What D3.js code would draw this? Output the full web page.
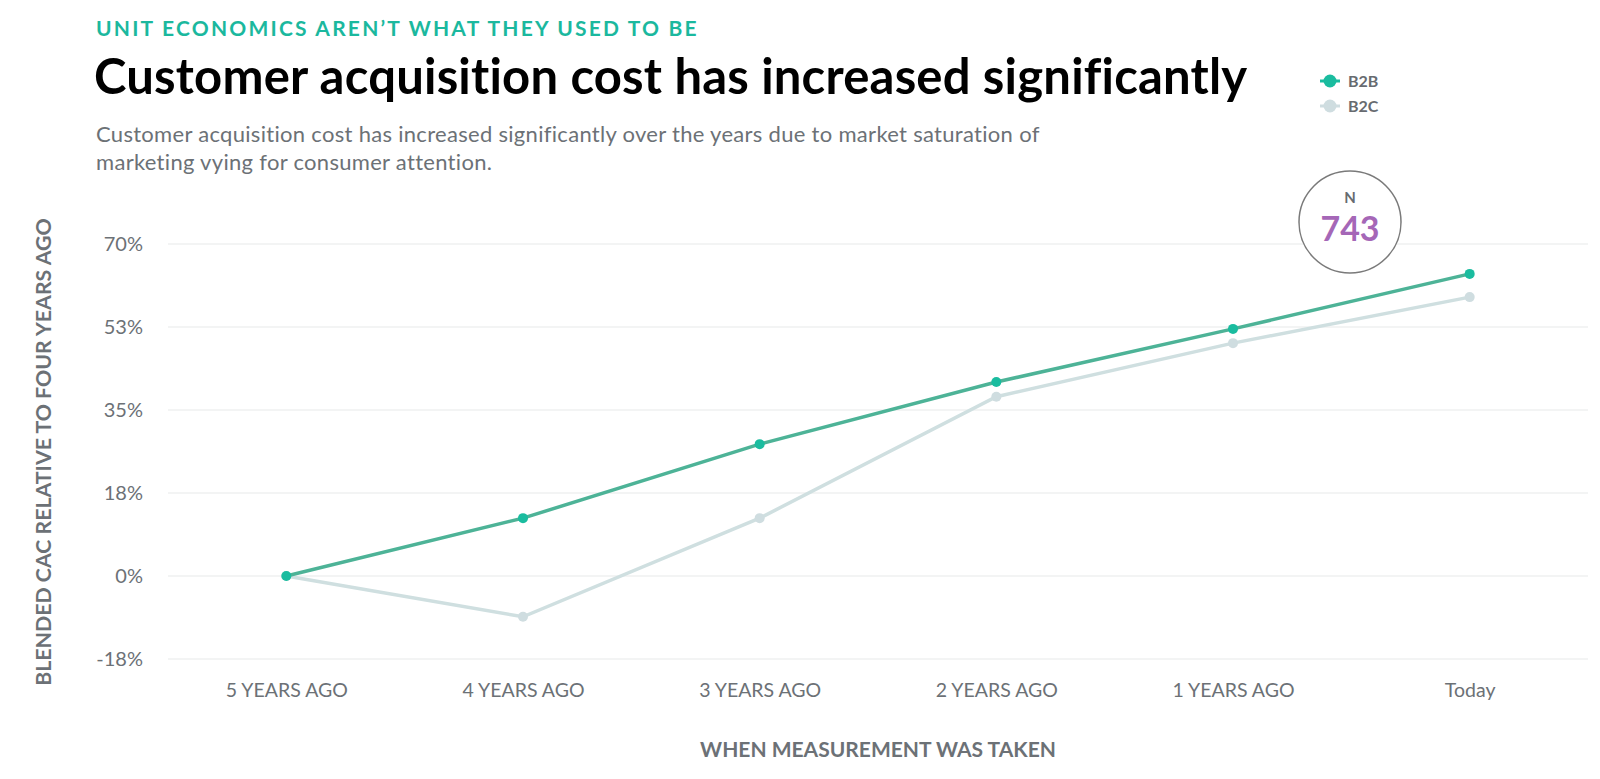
<!DOCTYPE html>
<html>
<head>
<meta charset="utf-8">
<script src="https://cdn.jsdelivr.net/npm/d3@7"></script>
<style>
  body { margin: 0; background: #fff; }
  svg { font-family: Lato, "Open Sans", sans-serif; }
</style>
</head>
<body>
<div id="graf"></div>
<script>
// data
let categories = ["5 YEARS AGO", "4 YEARS AGO", "3 YEARS AGO", "2 YEARS AGO", "1 YEARS AGO", "Today"];
let b2b = [0, 12.2, 27.8, 40.9, 52.1, 63.7];
let b2c = [0, -8.6, 12.2, 37.8, 49.1, 58.8];
let yTicks = [-17.5, 0, 17.5, 35, 52.5, 70];
let yTickLabels = ["-18%", "0%", "18%", "35%", "53%", "70%"];
let seriesNames = ["B2B", "B2C"];
let sampleSize = 743;

let width = 1600, height = 779;
let grey = "#6c7176";
let colors = { B2B: { line: "#4db397", dot: "#1abc9f" }, B2C: { line: "#cfdfe0", dot: "#cfdde0" } };

let svg = d3.select("#graf").append("svg")
            .attr("width", width)
            .attr("height", height)
            .attr("viewBox", [0, 0, width, height]);

// header
svg.append("text")
    .attr("x", 96).attr("y", 36)
    .attr("fill", "#1bb89e")
    .attr("font-size", 21).attr("font-weight", 700)
    .attr("letter-spacing", 2.2)
    .text("UNIT ECONOMICS AREN’T WHAT THEY USED TO BE");

svg.append("text")
    .attr("x", 94).attr("y", 94)
    .attr("fill", "#000")
    .attr("font-size", 49).attr("font-weight", 700)
    .attr("letter-spacing", 0.2)
    .text("Customer acquisition cost has increased significantly");

const desc = svg.append("text")
    .attr("fill", grey)
    .attr("font-size", 22)
    .attr("letter-spacing", 0.3);
desc.append("tspan").attr("x", 96).attr("y", 142)
    .text("Customer acquisition cost has increased significantly over the years due to market saturation of");
desc.append("tspan").attr("x", 96).attr("y", 170)
    .text("marketing vying for consumer attention.");

// legend
const legend = svg.append("g")
    .selectAll("g")
    .data(seriesNames)
    .join("g")
    .attr("transform", (d, i) => `translate(1330,${81 + i * 25})`);
legend.append("line")
    .attr("x1", -10).attr("x2", 10)
    .attr("stroke", d => colors[d].dot)
    .attr("stroke-width", 3);
legend.append("circle")
    .attr("r", 6.5)
    .attr("fill", d => colors[d].dot);
legend.append("text")
    .attr("x", 18).attr("dy", "0.36em")
    .attr("fill", "#676b70")
    .attr("font-size", 16).attr("font-weight", 700)
    .text(d => d);

// scales
let x = d3.scalePoint().domain(categories).range([168, 1588]).padding(0.5);
let y = d3.scaleLinear().domain([-17.5, 70]).range([659, 244]);

// grid
svg.append("g")
    .selectAll("line")
    .data(yTicks)
    .join("line")
    .attr("x1", 168).attr("x2", 1588)
    .attr("y1", d => y(d)).attr("y2", d => y(d))
    .attr("stroke", "#e8e9ea")
    .attr("stroke-width", 1.2);

// axes
const yAxis = svg.append("g")
    .attr("transform", "translate(168,0)")
    .call(d3.axisLeft(y).tickValues(yTicks).tickSize(0).tickPadding(25)
            .tickFormat((d, i) => yTickLabels[i]));
yAxis.select(".domain").remove();
yAxis.selectAll("text")
    .attr("fill", grey)
    .attr("font-size", 20)
    .attr("font-family", "Lato");

const xAxis = svg.append("g")
    .attr("transform", "translate(0,659)")
    .call(d3.axisBottom(x).tickSize(0).tickPadding(24));
xAxis.select(".domain").remove();
xAxis.selectAll("text")
    .attr("fill", grey)
    .attr("font-size", 19.5)
    .attr("font-family", "Lato");

svg.append("text")
    .attr("x", 878).attr("y", 757)
    .attr("text-anchor", "middle")
    .attr("fill", grey)
    .attr("font-size", 21).attr("font-weight", 700)
    .text("WHEN MEASUREMENT WAS TAKEN");

svg.append("text")
    .attr("transform", "translate(51,452) rotate(-90)")
    .attr("text-anchor", "middle")
    .attr("fill", grey)
    .attr("font-size", 21.3).attr("font-weight", 700)
    .text("BLENDED CAC RELATIVE TO FOUR YEARS AGO");

// lines
let line = d3.line()
            .x((d, i) => x(categories[i]))
            .y(d => y(d));

const series = [{ name: "B2C", values: b2c }, { name: "B2B", values: b2b }];

const sg = svg.append("g")
    .selectAll("g")
    .data(series)
    .join("g");

sg.append("path")
    .attr("fill", "none")
    .attr("stroke", d => colors[d.name].line)
    .attr("stroke-width", 3.5)
    .attr("d", d => line(d.values));

sg.selectAll("circle")
    .data(d => d.values.map(v => ({ name: d.name, v })))
    .join("circle")
    .attr("cx", (d, i) => x(categories[i]))
    .attr("cy", d => y(d.v))
    .attr("r", 5)
    .attr("fill", d => colors[d.name].dot);

// sample size badge
const badge = svg.append("g").attr("transform", "translate(1350,222)");
badge.append("circle")
    .attr("r", 51)
    .attr("fill", "#fff")
    .attr("stroke", "#7a7a7a")
    .attr("stroke-width", 1.5);
badge.append("text")
    .attr("y", -19)
    .attr("text-anchor", "middle")
    .attr("fill", "#676b70")
    .attr("font-size", 15).attr("font-weight", 700)
    .text("N");
badge.append("text")
    .attr("y", 19)
    .attr("text-anchor", "middle")
    .attr("fill", "#a567b7")
    .attr("font-size", 34).attr("font-weight", 700)
    .text(sampleSize);
</script>
</body>
</html>
